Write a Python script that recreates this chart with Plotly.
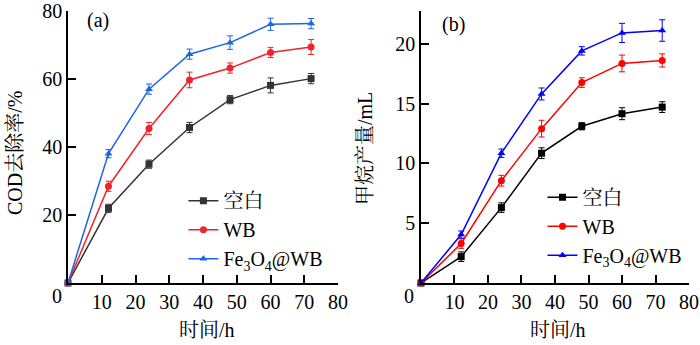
import plotly.graph_objects as go
from plotly.subplots import make_subplots

# Sampling times (h)
time_h = [0, 12, 24, 36, 48, 60, 72]

# (a) COD removal rate (%)
cod_blank = [0, 22.0, 35.0, 45.8, 54.0, 58.2, 60.2]
cod_blank_err = [0, 1.2, 1.2, 1.5, 1.2, 2.2, 1.5]
cod_wb = [0, 28.5, 45.5, 59.8, 63.3, 67.9, 69.5]
cod_wb_err = [0, 1.5, 1.8, 2.3, 1.5, 1.5, 2.2]
cod_fe = [0, 38.1, 57.1, 67.4, 70.8, 76.2, 76.4]
cod_fe_err = [0, 1.2, 1.5, 1.5, 2.0, 1.8, 1.5]

# (b) methane production (mL)
ch4_blank = [0, 2.2, 6.3, 10.85, 13.1, 14.15, 14.7]
ch4_blank_err = [0, 0.4, 0.4, 0.45, 0.3, 0.5, 0.45]
ch4_wb = [0, 3.3, 8.55, 12.9, 16.75, 18.35, 18.6]
ch4_wb_err = [0, 0.4, 0.45, 0.7, 0.4, 0.7, 0.55]
ch4_fe = [0, 4.05, 10.85, 15.8, 19.4, 20.9, 21.1]
ch4_fe_err = [0, 0.3, 0.35, 0.5, 0.35, 0.8, 0.9]

series_names = ["空白", "WB", "Fe<sub>3</sub>O<sub>4</sub>@WB"]
markers = ["square", "circle", "triangle-up"]
colors_a = ["#333333", "#f0242b", "#1a66e6"]
colors_b = ["#000000", "#ff0000", "#0000ff"]

x_ticks = [10, 20, 30, 40, 50, 60, 70, 80]
ya_ticks = [20, 40, 60, 80]
yb_ticks = [5, 10, 15, 20]

FONT = "Liberation Serif, Noto Serif CJK SC"

fig = make_subplots(rows=1, cols=2)

panel_a = [(cod_blank, cod_blank_err), (cod_wb, cod_wb_err), (cod_fe, cod_fe_err)]
panel_b = [(ch4_blank, ch4_blank_err), (ch4_wb, ch4_wb_err), (ch4_fe, ch4_fe_err)]

for i, (vals, err) in enumerate(panel_a):
    fig.add_trace(go.Scatter(
        x=time_h, y=vals, name=series_names[i], mode="lines+markers",
        line=dict(color=colors_a[i], width=1.5),
        marker=dict(symbol=markers[i], size=7, color=colors_a[i]),
        error_y=dict(type="data", array=err, color=colors_a[i], thickness=1, width=3),
        legend="legend", cliponaxis=False,
    ), row=1, col=1)

for i, (vals, err) in enumerate(panel_b):
    fig.add_trace(go.Scatter(
        x=time_h, y=vals, name=series_names[i], mode="lines+markers",
        line=dict(color=colors_b[i], width=1.5),
        marker=dict(symbol=markers[i], size=7, color=colors_b[i]),
        error_y=dict(type="data", array=err, color=colors_b[i], thickness=1, width=3),
        legend="legend2", cliponaxis=False,
    ), row=1, col=2)

ydom = [0.1797, 0.967]
axis_common = dict(
    showline=True, linecolor="black", linewidth=1.5, mirror=False,
    ticks="inside", ticklen=8, tickwidth=1.5, tickcolor="black",
    showgrid=False, zeroline=False,
    tickfont_family=FONT, tickfont_size=20, tickfont_color="black",
)

fig.update_xaxes(**axis_common, range=[0, 80], tickvals=x_ticks)
fig.update_xaxes(domain=[0.0971, 0.483], row=1, col=1)
fig.update_xaxes(domain=[0.6014, 0.9843], row=1, col=2)
fig.update_yaxes(**axis_common, domain=ydom)
fig.update_yaxes(range=[0, 80], tickvals=ya_ticks, row=1, col=1)
fig.update_yaxes(range=[0, 22.7], tickvals=yb_ticks, row=1, col=2)

legend_common = dict(
    font=dict(family=FONT, size=20, color="black"),
    bgcolor="rgba(0,0,0,0)", borderwidth=0,
    tracegroupgap=0, itemwidth=30,
    xanchor="left", yanchor="top",
)

annotations = [
    dict(text="(a)", x=85 / 700, y=1 - 20 / 345, xanchor="left"),
    dict(text="(b)", x=440 / 700, y=1 - 25 / 345, xanchor="left"),
    dict(text="0", x=57 / 700, y=1 - 296 / 345, xanchor="center"),
    dict(text="0", x=409 / 700, y=1 - 296 / 345, xanchor="center"),
    dict(text="时间/h", x=207 / 700, y=1 - 330 / 345, xanchor="center"),
    dict(text="时间/h", x=558 / 700, y=1 - 330 / 345, xanchor="center"),
    dict(text="COD去除率/%", x=15 / 700, y=1 - 153 / 345, xanchor="center", textangle=-90),
    dict(text="甲烷产量/mL", x=365 / 700, y=1 - 149 / 345, xanchor="center", textangle=-90),
]
for a in annotations:
    fig.add_annotation(xref="paper", yref="paper", yanchor="middle", showarrow=False,
                       font=dict(family=FONT, size=20, color="black"), **a)

fig.update_layout(
    template="none",
    width=700, height=345, margin=dict(l=0, r=0, t=0, b=0),
    paper_bgcolor="white", plot_bgcolor="white",
    font=dict(family=FONT, size=20, color="black"),
    legend=dict(**legend_common, x=0.262, y=0.475),
    legend2=dict(**legend_common, x=0.775, y=0.485),
)

fig.write_html("out.html")
